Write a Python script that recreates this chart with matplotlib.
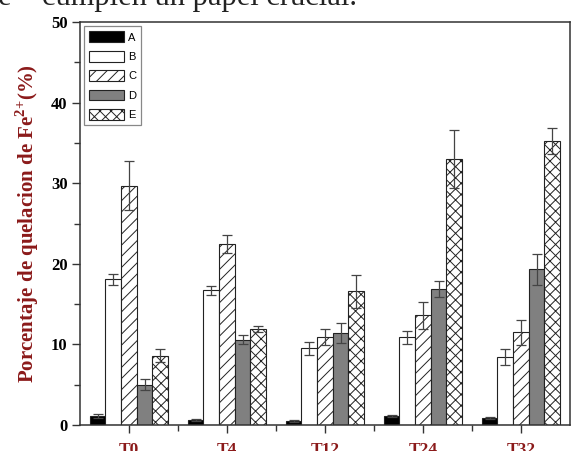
import matplotlib.pyplot as plt
from matplotlib.ticker import MultipleLocator, FixedLocator
import numpy as np

# tiempos de muestreo y tratamientos
tiempos = ['T0', 'T4', 'T12', 'T24', 'T32']
series = ['A', 'B', 'C', 'D', 'E']

# porcentaje de quelacion de Fe2+ (%) por serie
val_A = [1.1, 0.6, 0.5, 1.1, 0.9]
val_B = [18.1, 16.7, 9.5, 10.9, 8.4]
val_C = [29.7, 22.5, 10.9, 13.6, 11.5]
val_D = [5.0, 10.6, 11.4, 16.9, 19.3]
val_E = [8.6, 11.9, 16.6, 33.0, 35.2]

# desviacion estandar
err_A = [0.25, 0.1, 0.1, 0.1, 0.1]
err_B = [0.7, 0.55, 0.8, 0.8, 1.0]
err_C = [3.0, 1.1, 1.0, 1.7, 1.55]
err_D = [0.65, 0.55, 1.2, 1.0, 1.95]
err_E = [0.8, 0.4, 2.05, 3.6, 1.6]

valores = [val_A, val_B, val_C, val_D, val_E]
errores = [err_A, err_B, err_C, err_D, err_E]

colores = ['black', 'white', 'white', '#808080', 'white']
tramas = [None, None, '///', None, 'xxx']

plt.rcParams['hatch.linewidth'] = 0.7
plt.rcParams['hatch.color'] = '#333333'
plt.rcParams['mathtext.fontset'] = 'custom'
plt.rcParams['mathtext.rm'] = 'Liberation Serif:bold'
plt.rcParams['mathtext.bf'] = 'Liberation Serif:bold'

rojo = '#8b1a1a'
serif = 'Liberation Serif'

fig = plt.figure(figsize=(5.71, 4.51), dpi=100)
ax = fig.add_axes([0.140, 0.0576, 0.858, 0.8935])

x = np.arange(len(tiempos))
ancho = 0.16
for i, s in enumerate(series):
    pos = x + (i - 2) * ancho
    ax.bar(pos, valores[i], width=ancho, color=colores[i], hatch=tramas[i],
           edgecolor='#222222', linewidth=0.8, label=s, zorder=2)
    ax.errorbar(pos, valores[i], yerr=errores[i], fmt='none', ecolor='#444444',
                elinewidth=0.9, capsize=3.5, capthick=0.9, zorder=3)

ax.set_xlim(-0.5, 4.5)
ax.set_ylim(0, 50)
ax.set_xticks(x)
ax.set_xticklabels(tiempos, fontfamily=serif, fontweight='bold',
                   fontsize=12.5, color=rojo)
ax.xaxis.set_minor_locator(FixedLocator(x[:-1] + 0.5))
ax.yaxis.set_major_locator(MultipleLocator(10))
ax.yaxis.set_minor_locator(MultipleLocator(5))
for lab in ax.get_yticklabels():
    lab.set_fontfamily(serif)
    lab.set_fontweight('bold')
    lab.set_fontsize(12)

ax.tick_params(axis='both', which='major', direction='out', length=6,
               width=1, color='#333333', pad=3)
ax.tick_params(axis='both', which='minor', direction='out', length=4,
               width=1, color='#333333')
ax.tick_params(axis='x', which='major', pad=6)
for sp in ax.spines.values():
    sp.set_linewidth(1.1)
    sp.set_color('#333333')

ax.set_ylabel(r'Porcentaje de quelacion de Fe$^{\mathbf{2{+}}}$(%)',
              fontfamily=serif, fontweight='bold', fontsize=15, color=rojo,
              labelpad=7)

leg = ax.legend(loc='upper left', bbox_to_anchor=(0.0, 1.0),
                prop={'family': 'Liberation Sans', 'size': 8},
                handlelength=3.1, handleheight=1.1, labelspacing=0.75,
                handletextpad=0.4, borderpad=0.45, borderaxespad=0.4,
                fancybox=False, edgecolor='#888888', framealpha=1)
leg.get_frame().set_linewidth(0.9)

# texto del documento cortado en el borde superior
fig.text(-0.004, 1 - 5 / 451, 'e', fontfamily=serif,
         fontsize=22, color='#222222', va='baseline', ha='left')
fig.text(42 / 571, 1 - 5 / 451, 'cumplen un papel crucial.', fontfamily=serif,
         fontsize=22, color='#222222', va='baseline', ha='left')

fig.savefig('out.png', dpi=100)
